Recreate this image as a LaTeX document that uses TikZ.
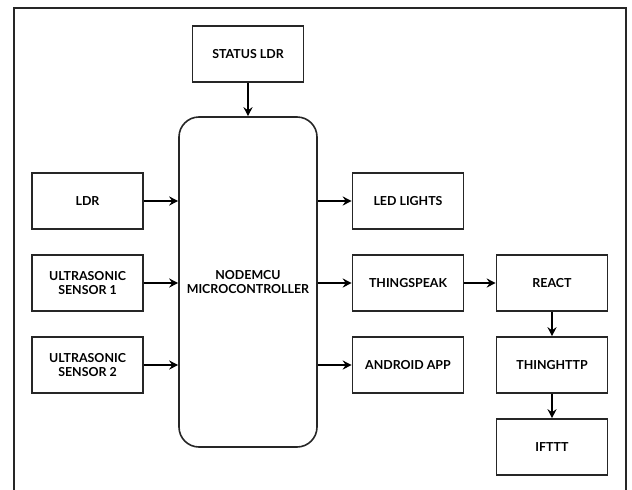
\documentclass[tikz,border=0pt]{standalone}
\usepackage{fontspec}
\setmainfont{Lato}
\usetikzlibrary{arrows.meta}
\begin{document}
\begin{tikzpicture}[x=1pt,y=-1pt,
  lbl/.style={font=\bfseries\fontsize{12.4}{14.5}\selectfont},
  box/.style={lbl, draw=black!85, line width=1.6pt, minimum width=111pt, minimum height=56pt, inner sep=0pt, align=center},
  conn/.style={draw=black, line width=1.5pt, -{Stealth[length=9pt,width=9pt,inset=3pt]}}]
\useasboundingbox (0,0) rectangle (632,490);
\fill[white] (0,0) rectangle (632,490);
\draw[line width=1.6pt, black!85] (14,492) -- (14,8) -- (626,8) -- (626,492);
\node[box] (status) at (248,54) {STATUS LDR};
\node[lbl, draw=black!85, line width=1.6pt, rounded corners=20pt, minimum width=138pt, minimum height=330pt, inner sep=0pt, align=center] (mcu) at (248,282) {NODEMCU\\MICROCONTROLLER};
\node[box] (ldr) at (87.5,201) {LDR};
\node[box] (us1) at (87.5,283) {ULTRASONIC\\SENSOR 1};
\node[box] (us2) at (87.5,365) {ULTRASONIC\\SENSOR 2};
\node[box] (led) at (408,201) {LED LIGHTS};
\node[box] (ts) at (408,283) {THINGSPEAK};
\node[box] (app) at (408,365) {ANDROID APP};
\node[box] (react) at (552,283) {REACT};
\node[box] (http) at (552,365) {THINGHTTP};
\node[box] (ifttt) at (552,447) {IFTTT};
\draw[conn] (status) -- (mcu);
\draw[conn] (ldr) -- (ldr -| mcu.west);
\draw[conn] (us1) -- (us1 -| mcu.west);
\draw[conn] (us2) -- (us2 -| mcu.west);
\draw[conn] (led -| mcu.east) -- (led);
\draw[conn] (ts -| mcu.east) -- (ts);
\draw[conn] (app -| mcu.east) -- (app);
\draw[conn] (ts) -- (react);
\draw[conn] (react) -- (http);
\draw[conn] (http) -- (ifttt);
\end{tikzpicture}
\end{document}
